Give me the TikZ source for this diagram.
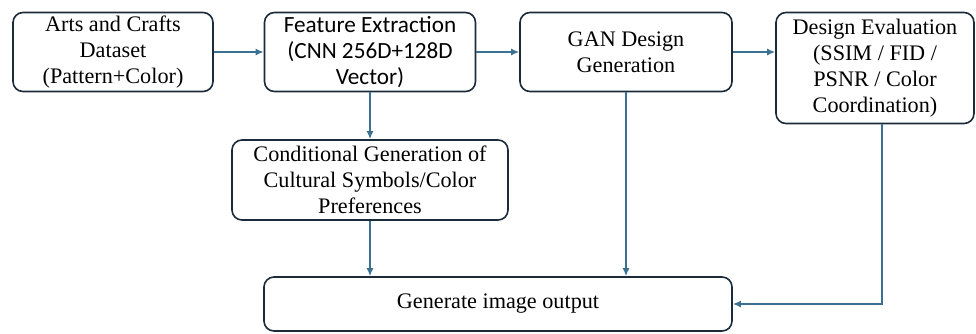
\documentclass[tikz,border=0pt]{standalone}
\usepackage{fontspec}
\setmainfont{Liberation Serif}
\newfontfamily\calfont{Carlito}
\usepackage{tikz}
\usetikzlibrary{calc,arrows.meta}
\definecolor{fl-edge}{HTML}{1C2B3A}
\definecolor{fl-link}{HTML}{3B7090}

\tikzset{
    stagebox/.style={draw=fl-edge, line width=1.6pt, rounded corners=10pt,
        align=center, inner sep=2pt, font=\fontsize{22.2}{26}\selectfont},
    flowlink/.style={fl-link, line width=1.8pt, -{Latex[length=8pt,width=7pt]}}
}

\begin{document}
\begin{tikzpicture}[x=1pt, y=-1pt]
    \useasboundingbox (0, 0) rectangle (976, 333);

    % top row of stages
    \node[stagebox, minimum width=200pt, minimum height=79pt] (data) at (113, 52)
        {Arts and Crafts\\Dataset\\(Pattern+Color)};
    \node[stagebox, minimum width=211pt, minimum height=79pt, font=\calfont\fontsize{23.2}{26}\selectfont] (feat) at (370, 52)
        {Feature Extraction\\(CNN 256D+128D\\Vector)};
    \node[stagebox, minimum width=212pt, minimum height=79pt] (gan) at (626, 52)
        {GAN Design\\Generation};
    \node[stagebox, minimum width=198pt, minimum height=111pt] (eval) at (875, 68)
        {Design Evaluation\\(SSIM / FID /\\PSNR / Color\\Coordination)};

    % conditioning branch and output
    \node[stagebox, minimum width=276pt, minimum height=80pt] (cond) at (370, 180)
        {Conditional Generation of\\Cultural Symbols/Color\\Preferences};
    \node[stagebox, minimum width=468pt, minimum height=54pt] (out) at (498, 304)
        {Generate image output};

    % connectors
    \draw[flowlink] (data.east) -- (feat.west);
    \draw[flowlink] (feat.east) -- (gan.west);
    \draw[flowlink] (gan.east) -- (gan.east -| eval.west);
    \draw[flowlink] (feat.south) -- (feat.south |- cond.north);
    \draw[flowlink] (cond.south) -- (cond.south |- out.north);
    \draw[flowlink] (gan.south) -- (gan.south |- out.north);
    \draw[flowlink] ([xshift=7pt]eval.south) |- (out.east);
\end{tikzpicture}
\end{document}
